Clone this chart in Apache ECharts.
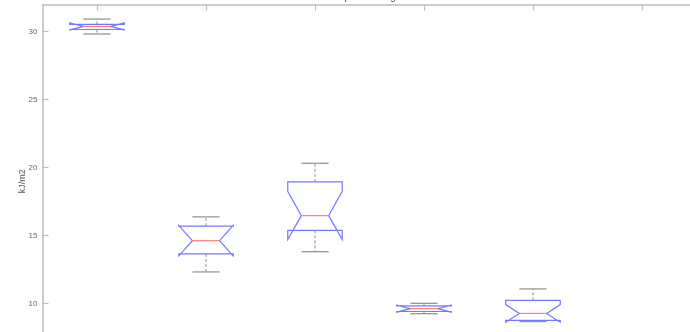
<!DOCTYPE html>
<html>
<head>
<meta charset="utf-8">
<title>Impact Strength</title>
<script src="https://cdn.jsdelivr.net/npm/echarts@6/dist/echarts.min.js"></script>
<style>
  html, body { margin: 0; padding: 0; background: #fff; }
  #chart { width: 690px; height: 332px; }
</style>
</head>
<body>
<div id="chart"></div>
<script>
// Notched box plot of impact strength (kJ/m2) per sample group
const groups = ['1', '2', '3', '4', '5', '6'];
const upperWhisker = [30.93, 16.38, 20.32, 10.02, 11.08];
const upperQuartile = [30.54, 15.70, 18.95, 9.84, 10.24];
const medians = [30.39, 14.63, 16.47, 9.63, 9.28];
const lowerQuartile = [30.16, 13.66, 15.39, 9.42, 8.76];
const lowerWhisker = [29.83, 12.33, 13.82, 9.26, 8.68];
const notchHigh = [30.65, 15.76, 18.26, 9.89, 9.93];
const notchLow = [30.13, 13.50, 14.71, 9.37, 8.63];
const yTicks = [10, 15, 20, 25, 30];

const boxColor = '#7777ff';
const medianColor = '#ff8080';
const whiskerColor = '#8f8f8f';
const axisColor = '#bdbdbd';
const font = 'Liberation Sans, Arial, sans-serif';

const boxData = medians.map((m, i) => [
  i, lowerWhisker[i], lowerQuartile[i], m, upperQuartile[i],
  upperWhisker[i], notchLow[i], notchHigh[i]
]);

function renderBox(params, api) {
  const idx = api.value(0);
  const lw = api.value(1), q1 = api.value(2), med = api.value(3);
  const q3 = api.value(4), uw = api.value(5);
  const nlo = api.value(6), nhi = api.value(7);
  const band = api.size([1, 0])[0];
  const half = band * 0.25;
  const inset = half / 2;
  const capHalf = half / 2;
  const cx = api.coord([idx, med])[0];
  const y = v => api.coord([idx, v])[1];
  const L = cx - half, R = cx + half;

  // Notched outline: the notch may reach past the quartiles, giving flaps
  const outline = [
    [L, y(q3)], [L, y(nhi)], [L + inset, y(med)], [L, y(nlo)], [L, y(q1)],
    [R, y(q1)], [R, y(nlo)], [R - inset, y(med)], [R, y(nhi)], [R, y(q3)]
  ];
  const dashed = { stroke: whiskerColor, lineWidth: 1, lineDash: [3, 2] };
  const solid = { stroke: whiskerColor, lineWidth: 1.2 };
  return {
    type: 'group',
    children: [
      { type: 'line', shape: { x1: cx, y1: y(q3), x2: cx, y2: y(uw) }, style: dashed },
      { type: 'line', shape: { x1: cx, y1: y(q1), x2: cx, y2: y(lw) }, style: dashed },
      { type: 'line', shape: { x1: cx - capHalf, y1: y(uw), x2: cx + capHalf, y2: y(uw) }, style: solid },
      { type: 'line', shape: { x1: cx - capHalf, y1: y(lw), x2: cx + capHalf, y2: y(lw) }, style: solid },
      { type: 'polygon', shape: { points: outline }, style: { fill: 'none', stroke: boxColor, lineWidth: 1.2 } },
      { type: 'line', shape: { x1: L + inset, y1: y(med), x2: R - inset, y2: y(med) }, style: { stroke: medianColor, lineWidth: 1.2 } }
    ]
  };
}

const chart = echarts.init(document.getElementById('chart'), null, { renderer: 'canvas' });

const yAxisBase = {
  type: 'value',
  min: 6,
  max: 32,
  splitNumber: 5,
  splitLine: { show: false },
  axisLine: { show: true, lineStyle: { color: axisColor, width: 1.5 } },
  axisTick: { show: true, inside: true, length: 6, lineStyle: { color: axisColor, width: 1.2 } }
};

chart.setOption({
  animation: false,
  backgroundColor: '#ffffff',
  grid: {
    left: 42.5, right: -6.5, top: 4.5, bottom: -26,
    containLabel: false,
    outerBoundsMode: 'none'
  },
  graphic: [{
    type: 'text',
    left: 369.5 - 36,
    top: -8,
    style: { text: 'Impact Strength', font: '10px ' + font, fill: '#444' }
  }],
  xAxis: [{
    type: 'category',
    data: groups,
    position: 'bottom',
    axisLine: { lineStyle: { color: axisColor, width: 1.5 } },
    axisTick: { inside: true, alignWithLabel: true, length: 6, lineStyle: { color: axisColor } },
    axisLabel: { color: '#555', fontSize: 8, fontFamily: font }
  }, {
    type: 'category',
    data: groups,
    position: 'top',
    axisLine: { show: true, lineStyle: { color: axisColor, width: 1.5 } },
    axisTick: { show: true, inside: true, alignWithLabel: true, length: 6, lineStyle: { color: axisColor, width: 1.2 } },
    axisLabel: { show: false }
  }],
  yAxis: [Object.assign({}, yAxisBase, {
    position: 'left',
    name: 'kJ/m2',
    nameLocation: 'middle',
    nameRotate: 90,
    nameGap: 15,
    nameMoveOverlap: false,
    nameTextStyle: { color: '#555', fontSize: 9, fontFamily: font },
    axisLabel: {
      color: '#666', fontSize: 8, fontFamily: font, margin: 5,
      showMinLabel: false, showMaxLabel: false,
      formatter: v => (yTicks.indexOf(v) >= 0 ? String(v) : '')
    }
  }), Object.assign({}, yAxisBase, {
    position: 'right',
    axisLabel: { show: false }
  })],
  series: [{
    type: 'custom',
    xAxisIndex: 0,
    yAxisIndex: 0,
    renderItem: renderBox,
    encode: { x: 0, y: [1, 2, 3, 4, 5] },
    data: boxData,
    clip: false
  }]
});
</script>
</body>
</html>
